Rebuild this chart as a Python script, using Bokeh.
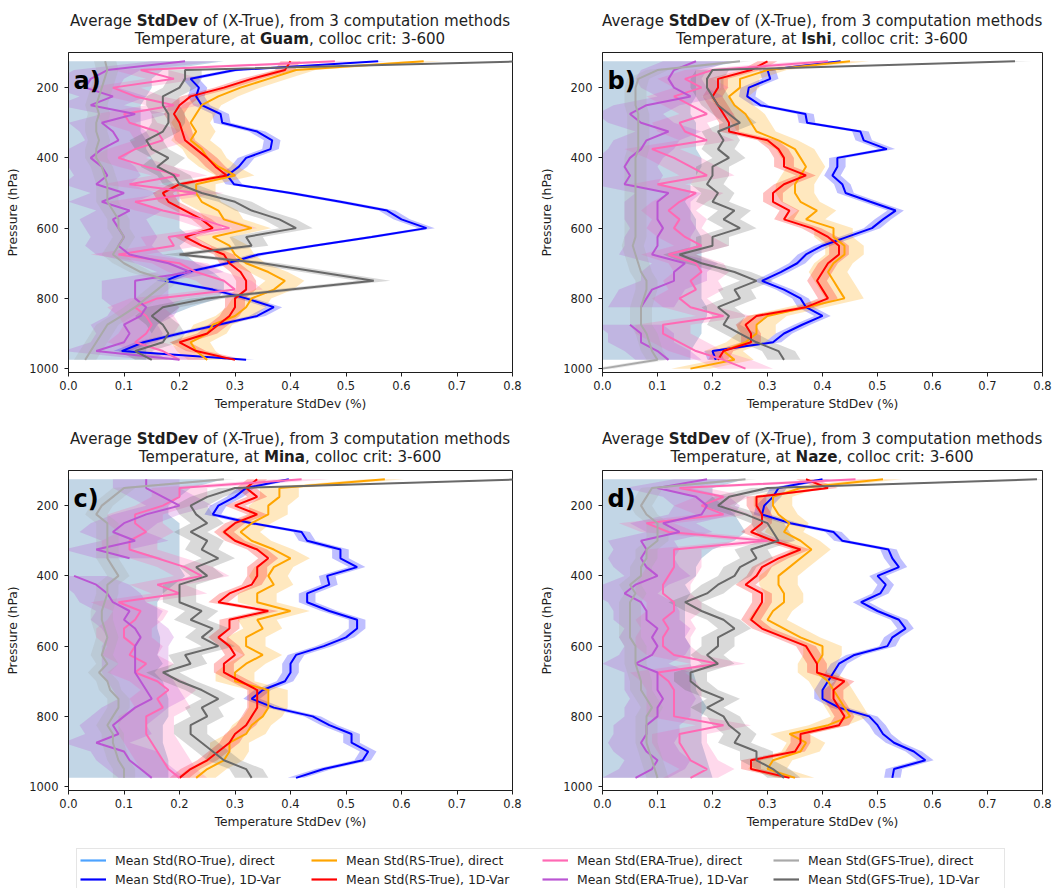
import math
from bokeh.plotting import figure
from bokeh.layouts import column, row
from bokeh.models import (Range1d, FixedTicker, PrintfTickFormatter, Label,
                          Legend, LegendItem, Div)
from bokeh.embed import file_html
from bokeh.resources import INLINE

nan = float("nan")

# ---------------------------------------------------------------- data
levels = [125, 150, 175, 200, 225, 250, 275, 300, 325, 350, 375, 400, 425,
          450, 475, 500, 525, 550, 575, 600, 625, 650, 675, 700, 725, 750,
          775, 800, 825, 850, 875, 900, 925, 950, 975]
levels_ishi = levels + [1000]

x_ticks = [0.0, 0.1, 0.2, 0.3, 0.4, 0.5, 0.6, 0.7, 0.8]
y_ticks = [200, 400, 600, 800, 1000]

# Guam
guam_ro_direct_hi = [0.28, 0.17, 0.15, 0.15, 0.14, 0.13, 0.13, 0.13, 0.13, 0.14, 0.14, 0.15, 0.16, 0.17, 0.19, 0.20, 0.20, 0.20, 0.20, 0.20, 0.22, 0.20, 0.21, 0.23, 0.26, 0.28, 0.28, 0.27, 0.22, 0.18, 0.16, 0.15, 0.14, 0.14, 0.14]
guam_ro_1dvar = [0.558, 0.30, 0.22, 0.235, 0.23, 0.24, 0.274, 0.277, 0.34, 0.367, 0.364, 0.32, 0.307, 0.286, 0.298, 0.40, 0.49, 0.574, 0.60, 0.645, 0.546, 0.442, 0.342, 0.286, 0.214, 0.174, 0.26, 0.32, 0.37, 0.34, 0.27, 0.20, 0.135, 0.096, 0.32]
guam_rs_direct = [0.64, 0.41, 0.36, 0.31, 0.27, 0.24, 0.23, 0.22, 0.23, 0.22, 0.24, 0.25, 0.27, 0.30, 0.23, 0.23, 0.24, 0.27, 0.28, 0.33, 0.26, 0.29, 0.30, 0.32, 0.36, 0.39, 0.37, 0.33, 0.32, 0.30, 0.26, 0.25, 0.22, 0.23, 0.25]
guam_rs_1dvar = [0.40, 0.39, 0.33, 0.28, 0.22, 0.20, 0.19, 0.20, 0.205, 0.21, 0.23, 0.25, 0.265, 0.285, 0.20, 0.17, 0.18, 0.21, 0.24, 0.26, 0.21, 0.24, 0.28, 0.29, 0.31, 0.32, 0.32, 0.30, 0.30, 0.29, 0.27, 0.25, 0.20, 0.23, 0.30]
guam_era_direct = [0.48, 0.13, 0.19, 0.08, 0.12, 0.19, 0.10, 0.11, 0.16, 0.17, 0.12, 0.09, 0.14, 0.20, 0.11, 0.23, 0.12, 0.17, 0.24, 0.29, 0.18, 0.19, 0.09, 0.20, 0.23, 0.28, 0.30, 0.16, 0.12, 0.14, 0.15, 0.14, 0.12, 0.17, 0.20]
guam_era_1dvar = [0.21, 0.07, 0.04, 0.03, 0.08, 0.04, 0.12, 0.06, 0.08, 0.09, 0.06, 0.04, 0.06, 0.07, 0.05, 0.10, 0.06, 0.11, 0.08, 0.09, 0.10, 0.09, 0.11, 0.18, 0.22, 0.12, 0.12, 0.12, 0.14, 0.13, 0.10, 0.11, 0.10, 0.05, 0.20]
guam_gfs_direct = [0.066, 0.07, 0.065, 0.06, 0.055, 0.05, 0.055, 0.05, 0.05, 0.055, 0.05, 0.05, 0.06, 0.065, 0.07, 0.07, 0.07, 0.08, 0.09, 0.09, 0.10, 0.09, 0.08, 0.10, 0.13, 0.18, 0.16, 0.14, 0.12, 0.096, 0.07, 0.06, 0.05, 0.04, 0.03]
guam_gfs_1dvar = [0.82, 0.21, 0.21, 0.20, 0.17, 0.17, 0.18, 0.18, 0.17, 0.14, 0.15, 0.18, 0.16, 0.19, 0.20, 0.24, 0.30, 0.33, 0.38, 0.41, 0.32, 0.33, 0.20, 0.35, 0.45, 0.55, 0.40, 0.25, 0.17, 0.15, 0.17, 0.18, 0.17, 0.12, 0.15]

# Ishi
ishi_ro_direct_hi = [0.25, 0.17, 0.17, 0.17, 0.17, 0.16, 0.16, 0.17, 0.17, 0.17, 0.17, 0.18, 0.18, 0.17, 0.16, 0.16, 0.15, 0.16, 0.17, 0.17, 0.18, 0.18, 0.18, 0.18, 0.18, 0.18, 0.18, 0.18, 0.19, 0.19, 0.18, 0.18, 0.17, 0.16, 0.16, nan]
ishi_ro_1dvar = [0.433, 0.30, 0.305, 0.266, 0.263, 0.287, 0.369, 0.372, 0.469, 0.475, 0.517, 0.427, 0.427, 0.418, 0.436, 0.442, 0.487, 0.533, 0.51, 0.49, 0.445, 0.40, 0.37, 0.354, 0.324, 0.29, 0.33, 0.36, 0.37, 0.40, 0.363, 0.33, 0.31, 0.20, 0.206, nan]
ishi_rs_direct = [0.45, 0.30, 0.25, 0.25, 0.23, 0.24, 0.26, 0.27, 0.28, 0.32, 0.35, 0.36, 0.37, 0.36, 0.35, 0.35, 0.36, 0.39, 0.37, 0.42, 0.42, 0.44, 0.44, 0.42, 0.41, 0.42, 0.43, 0.44, 0.37, 0.30, 0.28, 0.28, 0.26, 0.22, 0.24, 0.16]
ishi_rs_1dvar = [0.30, 0.27, 0.21, 0.21, 0.20, 0.21, 0.22, 0.23, 0.23, 0.30, 0.32, 0.33, 0.33, 0.37, 0.33, 0.31, 0.31, 0.34, 0.33, 0.38, 0.41, 0.43, 0.43, 0.41, 0.40, 0.39, 0.40, 0.41, 0.37, 0.28, 0.26, 0.27, 0.27, 0.22, 0.21, nan]
ishi_era_direct = [0.41, 0.20, 0.15, 0.18, 0.13, 0.16, 0.19, 0.14, 0.15, 0.19, 0.09, 0.13, 0.16, 0.19, 0.10, 0.17, 0.14, 0.12, 0.14, 0.13, 0.15, 0.18, 0.12, 0.17, 0.18, 0.16, 0.17, 0.14, 0.16, 0.22, 0.11, 0.11, 0.14, 0.17, 0.22, 0.26]
ishi_era_1dvar = [0.17, 0.13, 0.12, 0.13, 0.16, 0.08, 0.05, 0.07, 0.12, 0.08, 0.07, 0.05, 0.04, 0.05, 0.04, 0.12, 0.10, 0.10, 0.10, 0.11, 0.10, 0.10, 0.09, 0.15, 0.13, 0.13, 0.09, 0.08, 0.07, nan, 0.05, 0.07, 0.07, 0.10, 0.12, nan]
ishi_gfs_direct = [0.25, 0.10, 0.065, 0.06, 0.06, 0.06, 0.065, 0.065, 0.065, 0.065, 0.065, 0.06, 0.06, 0.06, 0.06, 0.06, 0.06, 0.06, 0.06, 0.06, 0.06, 0.055, 0.06, 0.065, 0.07, 0.08, 0.08, 0.075, 0.07, 0.07, 0.07, 0.08, 0.085, 0.09, 0.10, 0.0]
ishi_gfs_1dvar = [0.75, 0.20, 0.19, 0.19, 0.20, 0.21, 0.23, 0.25, 0.21, 0.22, 0.21, 0.23, 0.20, 0.20, 0.19, 0.21, 0.20, 0.24, 0.22, 0.25, 0.20, 0.20, 0.14, 0.18, 0.24, 0.28, 0.24, 0.25, 0.21, 0.23, 0.22, 0.25, 0.28, 0.32, 0.33, nan]

# Mina
mina_ro_direct_hi = [0.28, 0.22, 0.20, 0.18, 0.18, 0.20, 0.20, 0.20, 0.20, 0.20, 0.20, 0.21, 0.19, 0.17, 0.16, 0.16, 0.16, 0.16, 0.165, 0.165, 0.16, 0.17, 0.155, 0.17, 0.175, 0.18, 0.18, 0.18, 0.17, 0.17, 0.17, 0.175, 0.18, 0.18, 0.18]
mina_ro_1dvar = [0.397, 0.32, 0.30, 0.27, 0.26, 0.33, 0.42, 0.43, 0.49, 0.49, 0.52, 0.466, 0.47, 0.43, 0.43, 0.47, 0.52, 0.52, 0.50, 0.46, 0.41, 0.40, 0.40, 0.39, 0.35, 0.33, 0.37, 0.44, 0.47, 0.51, 0.51, 0.54, 0.53, 0.46, 0.41]
mina_rs_direct = [0.57, 0.38, 0.38, 0.36, 0.36, 0.33, 0.31, 0.33, 0.37, 0.40, 0.37, 0.36, 0.37, 0.34, 0.34, 0.40, 0.34, 0.35, 0.32, 0.32, 0.35, 0.32, 0.30, 0.30, 0.36, 0.36, 0.36, 0.35, 0.33, 0.32, 0.29, 0.29, 0.28, 0.25, 0.23]
mina_rs_1dvar = [0.34, 0.32, 0.34, 0.30, 0.34, 0.30, 0.28, 0.30, 0.34, 0.36, 0.34, 0.34, 0.33, 0.29, 0.27, 0.36, 0.29, 0.29, 0.27, 0.29, 0.30, 0.28, 0.28, 0.31, 0.34, 0.34, 0.34, 0.33, 0.32, 0.30, 0.29, 0.27, 0.25, 0.22, 0.20]
mina_era_direct = [0.42, 0.20, 0.20, 0.17, 0.12, 0.12, 0.14, 0.11, 0.11, 0.16, 0.21, 0.24, 0.16, 0.20, 0.09, 0.13, 0.12, 0.10, 0.10, 0.12, 0.11, 0.14, 0.12, 0.16, 0.18, 0.16, 0.17, 0.14, 0.14, 0.14, 0.15, 0.16, 0.17, 0.18, 0.20]
mina_era_1dvar = [0.14, 0.14, 0.17, 0.20, 0.14, 0.10, 0.08, 0.12, 0.05, 0.11, nan, 0.01, 0.05, 0.07, 0.08, 0.11, 0.10, 0.12, 0.13, 0.12, 0.12, 0.12, 0.12, 0.13, 0.14, 0.15, 0.12, 0.10, 0.08, 0.09, 0.05, 0.10, 0.11, 0.13, 0.15]
mina_gfs_direct = [0.28, 0.10, 0.08, 0.06, 0.05, 0.07, 0.07, 0.07, 0.07, 0.07, 0.08, 0.09, 0.07, 0.07, 0.065, 0.06, 0.06, 0.065, 0.07, 0.065, 0.06, 0.07, 0.055, 0.07, 0.075, 0.09, 0.09, 0.08, 0.07, 0.08, 0.08, 0.085, 0.09, 0.10, 0.10]
mina_gfs_1dvar = [0.82, 0.30, 0.25, 0.22, 0.23, 0.25, 0.22, 0.25, 0.24, 0.27, 0.23, 0.25, 0.20, 0.20, 0.20, 0.24, 0.22, 0.26, 0.24, 0.27, 0.21, 0.22, 0.17, 0.20, 0.24, 0.27, 0.24, 0.25, 0.22, 0.22, 0.24, 0.26, 0.28, 0.32, 0.33]

# Naze
naze_ro_direct_hi = [0.26, 0.20, 0.20, 0.22, 0.24, 0.25, 0.26, 0.24, 0.20, 0.18, 0.17, 0.17, 0.15, 0.16, 0.15, 0.15, 0.15, 0.15, 0.15, 0.16, 0.16, 0.16, 0.165, 0.17, 0.17, 0.18, 0.19, 0.18, 0.18, 0.18, 0.18, 0.185, 0.19, 0.195, 0.20]
naze_ro_1dvar = [0.40, 0.32, 0.31, 0.294, 0.29, 0.342, 0.42, 0.436, 0.52, 0.527, 0.539, 0.50, 0.515, 0.505, 0.47, 0.50, 0.539, 0.551, 0.527, 0.518, 0.458, 0.43, 0.42, 0.41, 0.40, 0.40, 0.43, 0.485, 0.50, 0.51, 0.53, 0.566, 0.587, 0.53, 0.527]
naze_rs_direct = [0.51, 0.36, 0.31, 0.31, 0.32, 0.34, 0.33, 0.36, 0.38, 0.36, 0.34, 0.32, 0.32, 0.33, 0.33, 0.31, 0.30, 0.33, 0.36, 0.40, 0.40, 0.39, 0.39, 0.41, 0.42, 0.43, 0.44, 0.45, 0.41, 0.34, 0.37, 0.36, 0.31, 0.30, 0.35]
naze_rs_1dvar = [0.37, 0.41, 0.28, 0.28, 0.29, 0.29, 0.27, 0.31, 0.36, 0.32, 0.29, 0.28, 0.26, 0.29, 0.29, 0.28, 0.27, 0.29, 0.33, 0.37, 0.38, 0.39, 0.39, 0.44, 0.42, 0.42, 0.43, 0.44, 0.43, 0.36, 0.36, 0.35, 0.27, 0.27, 0.34]
naze_era_direct = [0.46, 0.14, 0.22, 0.18, 0.22, 0.08, 0.12, 0.30, 0.13, 0.13, 0.13, 0.12, 0.11, 0.11, 0.13, 0.13, 0.11, 0.12, 0.11, 0.11, 0.13, 0.21, 0.10, 0.12, 0.13, 0.13, 0.13, 0.13, 0.22, 0.14, 0.14, 0.15, 0.16, 0.19, 0.16]
naze_era_1dvar = [0.19, 0.10, 0.17, 0.19, 0.18, 0.11, 0.14, 0.07, 0.08, 0.07, 0.08, 0.10, 0.06, 0.04, 0.07, 0.08, 0.08, 0.10, 0.09, 0.10, 0.09, 0.06, 0.10, 0.10, 0.10, 0.11, 0.10, 0.10, 0.08, 0.08, 0.07, 0.08, 0.10, 0.09, 0.06]
naze_gfs_direct = [0.26, 0.09, 0.08, 0.07, 0.08, 0.10, 0.10, 0.10, 0.08, 0.08, 0.07, 0.07, 0.05, 0.06, 0.05, 0.05, 0.05, 0.05, 0.05, 0.06, 0.06, 0.06, 0.065, 0.07, 0.07, 0.08, 0.09, 0.08, 0.08, 0.08, 0.08, 0.085, 0.09, 0.095, 0.10]
naze_gfs_1dvar = [0.79, 0.30, 0.23, 0.21, 0.26, 0.30, 0.31, 0.32, 0.27, 0.28, 0.25, 0.24, 0.21, 0.19, 0.15, 0.18, 0.22, 0.24, 0.21, 0.21, 0.19, 0.21, 0.16, 0.16, 0.18, 0.22, 0.19, 0.22, 0.23, 0.25, 0.24, 0.28, 0.28, 0.31, 0.33]

series_keys = ["ro_direct", "ro_1dvar", "rs_direct", "rs_1dvar",
               "era_direct", "era_1dvar", "gfs_direct", "gfs_1dvar"]
series_labels = ["Mean Std(RO-True), direct", "Mean Std(RO-True), 1D-Var",
                 "Mean Std(RS-True), direct", "Mean Std(RS-True), 1D-Var",
                 "Mean Std(ERA-True), direct", "Mean Std(ERA-True), 1D-Var",
                 "Mean Std(GFS-True), direct", "Mean Std(GFS-True), 1D-Var"]
series_colors = ["#4da3ff", "#0000ff", "#ffa500", "#ff0000",
                 "#ff69b4", "#ba55d3", "#a9a9a9", "#696969"]
ro_direct_band_color = "#4682b4"
# half width of the shaded spread around each mean profile
band_halfwidth = {"ro_1dvar": 0.015, "rs_direct": 0.035, "rs_1dvar": 0.018,
                  "era_direct": 0.05, "era_1dvar": 0.06, "gfs_direct": 0.02,
                  "gfs_1dvar": 0.03}

stations = [
    ("Guam", "a)", levels, guam_ro_direct_hi,
     {"ro_1dvar": guam_ro_1dvar, "rs_direct": guam_rs_direct, "rs_1dvar": guam_rs_1dvar,
      "era_direct": guam_era_direct, "era_1dvar": guam_era_1dvar,
      "gfs_direct": guam_gfs_direct, "gfs_1dvar": guam_gfs_1dvar}),
    ("Ishi", "b)", levels_ishi, ishi_ro_direct_hi,
     {"ro_1dvar": ishi_ro_1dvar, "rs_direct": ishi_rs_direct, "rs_1dvar": ishi_rs_1dvar,
      "era_direct": ishi_era_direct, "era_1dvar": ishi_era_1dvar,
      "gfs_direct": ishi_gfs_direct, "gfs_1dvar": ishi_gfs_1dvar}),
    ("Mina", "c)", levels, mina_ro_direct_hi,
     {"ro_1dvar": mina_ro_1dvar, "rs_direct": mina_rs_direct, "rs_1dvar": mina_rs_1dvar,
      "era_direct": mina_era_direct, "era_1dvar": mina_era_1dvar,
      "gfs_direct": mina_gfs_direct, "gfs_1dvar": mina_gfs_1dvar}),
    ("Naze", "d)", levels, naze_ro_direct_hi,
     {"ro_1dvar": naze_ro_1dvar, "rs_direct": naze_rs_direct, "rs_1dvar": naze_rs_1dvar,
      "era_direct": naze_era_direct, "era_1dvar": naze_era_1dvar,
      "gfs_direct": naze_gfs_direct, "gfs_1dvar": naze_gfs_1dvar}),
]

# ---------------------------------------------------------------- styling
FONT = "DejaVu Sans"
INK = "#1e1e1e"


def segments(lo, hi):
    """Contiguous index runs where both edges are finite."""
    runs, start = [], None
    for i, (a, b) in enumerate(zip(lo, hi)):
        ok = not (math.isnan(a) or math.isnan(b))
        if ok and start is None:
            start = i
        if not ok and start is not None:
            runs.append((start, i))
            start = None
    if start is not None:
        runs.append((start, len(lo)))
    return runs


def title_block(station, width, left, right, height, pad_top):
    """Two centred title lines with bold key words, above the frame."""
    fw = width - left - right
    html = (
        f'<div style="width:{fw}px;margin-left:{left}px;padding-top:{pad_top}px;'
        f'text-align:center;white-space:nowrap;font-family:\'{FONT}\';'
        f'font-size:15.1px;line-height:18.3px;color:{INK};">'
        'Average <b>StdDev</b> of (X-True), from 3 computation methods<br>'
        f'Temperature, at <b>{station}</b>, colloc crit: 3-600</div>'
    )
    return Div(text=html, width=width, height=height, margin=(0, 0, 0, 0))


def make_panel(station, tag, lv, ro_hi, data, width, left, right,
               title_h, pad_top, panel_h, bottom):
    fh = panel_h - bottom
    p = figure(width=width, height=panel_h, output_backend="svg",
               toolbar_location=None, title=None, x_range=Range1d(0, 0.8),
               y_range=Range1d(1011, 100), min_border_left=left,
               min_border_right=right, min_border_top=0,
               min_border_bottom=bottom)
    p.grid.visible = False
    p.outline_line_color = INK
    p.outline_line_width = 1
    p.background_fill_color = "white"

    # shaded spreads first, then the mean profiles on top
    n = len(lv)
    zero = [0.0] * n
    for a, b in segments(zero, ro_hi):
        p.harea(x1=zero[a:b], x2=ro_hi[a:b], y=lv[a:b],
                fill_color=ro_direct_band_color, fill_alpha=0.33)
    for key, color in zip(series_keys[1:], series_colors[1:]):
        vals = data[key]
        hw = band_halfwidth[key]
        lo = [v - hw for v in vals]
        hi = [v + hw for v in vals]
        for a, b in segments(lo, hi):
            p.harea(x1=lo[a:b], x2=hi[a:b], y=lv[a:b], fill_color=color,
                    fill_alpha=0.25)
    for key, color in zip(series_keys[1:], series_colors[1:]):
        p.line(x=data[key], y=lv, line_color=color, line_width=2)

    # axes
    p.xaxis.ticker = FixedTicker(ticks=x_ticks)
    p.xaxis.formatter = PrintfTickFormatter(format="%.1f")
    p.yaxis.ticker = FixedTicker(ticks=y_ticks)
    p.xaxis.axis_label = "Temperature StdDev (%)"
    p.yaxis.axis_label = "Pressure (hPa)"
    for ax in (p.xaxis[0], p.yaxis[0]):
        ax.axis_line_color = INK
        ax.major_tick_line_color = INK
        ax.major_tick_out = 4
        ax.major_tick_in = 0
        ax.minor_tick_line_color = None
        ax.major_label_text_font = FONT
        ax.major_label_text_font_size = "11.5px"
        ax.major_label_text_color = INK
        ax.axis_label_text_font = FONT
        ax.axis_label_text_font_size = "12.3px"
        ax.axis_label_text_font_style = "normal"
        ax.axis_label_text_color = INK
    p.xaxis.major_label_standoff = 4
    p.xaxis.axis_label_standoff = 4
    p.yaxis.major_label_standoff = 6
    p.yaxis.axis_label_standoff = 6

    # panel tag
    p.add_layout(Label(x=5, y=fh - 28, x_units="screen", y_units="screen",
                       text=tag, text_font=FONT, text_font_size="24px",
                       text_font_style="bold", text_color="black",
                       text_baseline="alphabetic"))

    t = title_block(station, width, left, right, title_h, pad_top)
    return column(t, p)


# width, left, right, title height, title top padding, panel height, bottom
panel_geom = [
    (530, 68, 18, 52, 12, 368, 48),
    (533, 72, 21, 52, 12, 368, 48),
    (530, 68, 18, 50, 10, 370, 50),
    (533, 72, 21, 50, 10, 370, 50),
]
panels = [make_panel(s[0], s[1], s[2], s[3], s[4], *g)
          for s, g in zip(stations, panel_geom)]

# ---------------------------------------------------------------- legend strip
lg = figure(width=1063, height=48, output_backend="svg", toolbar_location=None,
            title=None, x_range=Range1d(0, 1), y_range=Range1d(0, 1),
            min_border=0, x_axis_location=None, y_axis_location=None)
lg.grid.visible = False
lg.outline_line_color = None
items = []
for label, color in zip(series_labels, series_colors):
    # legend proxies: no finite points, so nothing is drawn in the strip
    r = lg.line(x=[nan, nan], y=[nan, nan], line_color=color, line_width=2.2)
    items.append(LegendItem(label=label, renderers=[r]))
legend = Legend(items=items, orientation="vertical", nrows=2,
                location=(76, -3), label_text_font=FONT,
                label_text_font_size="12.4px", label_text_color=INK,
                glyph_width=26, glyph_height=16, label_height=16,
                label_width=193, label_standoff=9, spacing=3, padding=3,
                margin=0, border_line_color="#cccccc", border_line_width=1,
                background_fill_color="white", background_fill_alpha=1.0)
lg.add_layout(legend, "center")

layout = column(row(panels[0], panels[1]), row(panels[2], panels[3]), lg)

open("out.html", "w").write(file_html(layout, INLINE))
